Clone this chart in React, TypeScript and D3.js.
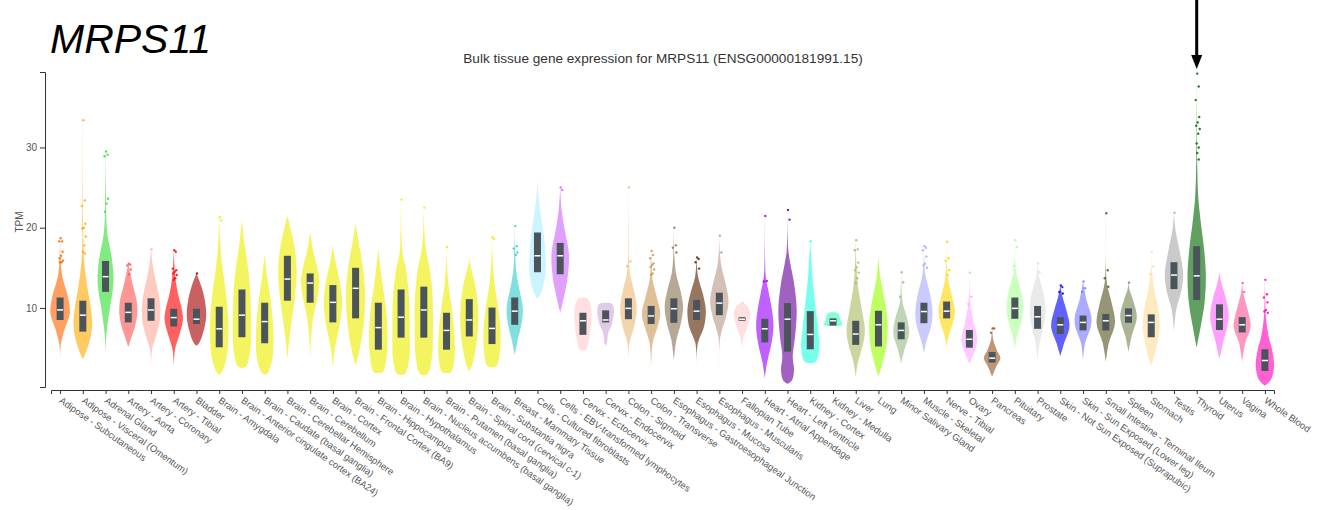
import { useEffect, useRef } from 'react'
import * as d3 from 'd3'

const tissues = [
  'Adipose - Subcutaneous', 'Adipose - Visceral (Omentum)', 'Adrenal Gland', 'Artery - Aorta',
  'Artery - Coronary', 'Artery - Tibial', 'Bladder', 'Brain - Amygdala',
  'Brain - Anterior cingulate cortex (BA24)', 'Brain - Caudate (basal ganglia)', 'Brain - Cerebellar Hemisphere',
  'Brain - Cerebellum', 'Brain - Cortex', 'Brain - Frontal Cortex (BA9)', 'Brain - Hippocampus',
  'Brain - Hypothalamus', 'Brain - Nucleus accumbens (basal ganglia)', 'Brain - Putamen (basal ganglia)',
  'Brain - Spinal cord (cervical c-1)', 'Brain - Substantia nigra', 'Breast - Mammary Tissue',
  'Cells - Cultured fibroblasts', 'Cells - EBV-transformed lymphocytes', 'Cervix - Ectocervix',
  'Cervix - Endocervix', 'Colon - Sigmoid', 'Colon - Transverse', 'Esophagus - Gastroesophageal Junction',
  'Esophagus - Mucosa', 'Esophagus - Muscularis', 'Fallopian Tube', 'Heart - Atrial Appendage',
  'Heart - Left Ventricle', 'Kidney - Cortex', 'Kidney - Medulla', 'Liver', 'Lung', 'Minor Salivary Gland',
  'Muscle - Skeletal', 'Nerve - Tibial', 'Ovary', 'Pancreas', 'Pituitary', 'Prostate',
  'Skin - Not Sun Exposed (Suprapubic)', 'Skin - Sun Exposed (Lower leg)', 'Small Intestine - Terminal Ileum',
  'Spleen', 'Stomach', 'Testis', 'Thyroid', 'Uterus', 'Vagina', 'Whole Blood'
]

const tissueColors = [
  '#FF6600', '#FFAA00', '#33DD33', '#FF5555', '#FFAA99', '#FF0000', '#AA0000',
  '#EEEE00', '#EEEE00', '#EEEE00', '#EEEE00', '#EEEE00', '#EEEE00', '#EEEE00', '#EEEE00',
  '#EEEE00', '#EEEE00', '#EEEE00', '#EEEE00', '#EEEE00',
  '#33CCCC', '#AAEEFF', '#CC66FF', '#FFCCCC', '#CCAADD', '#EEBB77', '#CC9955', '#8B7355',
  '#552200', '#BB9988', '#FFCCCC', '#9900FF', '#660099', '#22FFDD', '#33FFC2', '#AABB66',
  '#99FF00', '#99BB88', '#AAAAFF', '#FFD700', '#FFAAFF', '#995522', '#AAFF99', '#DDDDDD',
  '#0000FF', '#7777FF', '#555522', '#778855', '#FFDD99', '#AAAAAA', '#006600', '#FF66FF',
  '#FF5599', '#FF00BB'
]

// quartiles (TPM)
const q1 = [
  8.5, 7.05, 12.0, 8.2, 8.4, 7.7, 8.0, 5.1, 6.35, 5.6, 10.9, 10.65, 8.2, 8.7, 4.8, 6.3, 6.3, 4.8,
  6.45, 5.5, 7.9, 14.45, 14.2, 6.65, 8.2, 8.6, 8.0, 8.15, 8.5, 9.1, 8.4, 5.7, 4.55, 4.85, 7.8,
  5.4, 5.2, 6.1, 8.1, 8.7, 5.05, 3.2, 8.65, 7.4, 6.75, 7.2, 7.2, 8.15, 6.35, 12.35, 11.0, 7.25,
  6.95, 2.15
]
const medians = [
  9.75, 9.1, 13.9, 9.45, 9.75, 8.8, 8.6, 7.4, 9.1, 8.3, 13.6, 13.1, 10.7, 12.45, 7.55, 8.85, 9.75,
  7.2, 8.5, 7.45, 9.6, 16.5, 16.5, 8.4, 8.5, 9.95, 9.0, 9.9, 9.6, 10.6, 8.6, 7.4, 8.6, 6.7, 8.4,
  6.75, 7.9, 7.2, 9.55, 9.6, 6.1, 3.75, 9.95, 8.9, 7.9, 8.2, 8.4, 9.05, 8.2, 14.1, 14.0, 8.6,
  7.9, 3.45
]
const q3 = [
  11.3, 10.9, 15.85, 10.65, 11.2, 9.9, 9.9, 10.15, 12.3, 10.65, 16.5, 14.3, 12.85, 15.0, 10.65,
  12.3, 12.65, 9.4, 11.1, 10.05, 11.3, 19.4, 18.1, 9.4, 9.7, 11.2, 10.25, 11.2, 11.0, 11.9, 8.85,
  8.65, 10.6, 9.6, 8.7, 8.4, 9.65, 8.2, 10.65, 10.8, 7.25, 4.5, 11.3, 10.25, 8.85, 9.05, 9.25,
  9.95, 9.2, 15.7, 17.7, 10.45, 8.85, 4.85
]

// violin outline: [TPM, relative density]
const violinProfiles: [number, number][][] = [
  [[3.2, 0], [5.5, 0.08], [7.3, 0.45], [9.3, 0.97], [11.4, 0.78], [13.5, 0.3], [15.1, 0.1], [18.7, 0]],
  [[3.6, 0], [4.8, 0.4], [6.5, 0.8], [7.8, 0.93], [9.8, 0.83], [12.2, 0.5], [14.7, 0.22], [16.8, 0.08], [20, 0.04], [33.4, 0]],
  [[4.35, 0], [6, 0.05], [7.5, 0.15], [9.75, 0.4], [12.2, 0.72], [13.9, 0.8], [16.4, 0.6], [18.9, 0.22], [21, 0.08], [24, 0.04], [29.5, 0]],
  [[5.1, 0], [6, 0.22], [7.7, 0.67], [9.3, 0.9], [11, 0.82], [12.65, 0.5], [14.3, 0.2], [15.5, 0]],
  [[2.6, 0], [4.8, 0.1], [6.4, 0.48], [8.1, 0.83], [9.75, 0.93], [11.8, 0.75], [13.9, 0.38], [15.5, 0.15], [17.4, 0]],
  [[2.6, 0], [4.8, 0.12], [6.4, 0.5], [8.5, 0.92], [9.75, 0.82], [11.8, 0.42], [13.9, 0.15], [15.5, 0.06], [17.2, 0]],
  [[5.3, 0], [5.6, 0.25], [6.85, 0.65], [8.9, 0.97], [11, 0.83], [12.65, 0.5], [14.3, 0]],
  [[1.65, 0], [2.1, 0.3], [3.9, 0.75], [6.4, 0.92], [8.9, 0.9], [11.4, 0.72], [13.9, 0.45], [16.4, 0.2], [18.9, 0.07], [21.2, 0]],
  [[2.5, 0], [2.7, 0.4], [4.4, 0.8], [7.3, 0.93], [9.75, 0.9], [12.2, 0.82], [15.1, 0.6], [18, 0.25], [21, 0]],
  [[1.65, 0], [1.9, 0.3], [3.55, 0.75], [6, 0.88], [8.9, 0.78], [11.4, 0.55], [13.9, 0.25], [16.7, 0]],
  [[3.65, 0], [5.6, 0.15], [8.9, 0.48], [11.4, 0.75], [14.7, 0.93], [18, 0.65], [20.1, 0.28], [21.45, 0]],
  [[3.85, 0], [6.4, 0.1], [8.9, 0.32], [11.4, 0.75], [13.5, 0.92], [15.55, 0.62], [17.2, 0.28], [19.5, 0]],
  [[2.6, 0], [4.8, 0.18], [7.3, 0.58], [10.6, 0.92], [13.5, 0.65], [16, 0.22], [17.8, 0]],
  [[2.8, 0], [4.8, 0.4], [8.1, 0.82], [12.2, 0.95], [16, 0.62], [18.45, 0.27], [20.6, 0]],
  [[1.9, 0], [2.0, 0.45], [3.95, 0.83], [6.4, 0.92], [9.75, 0.78], [12.65, 0.45], [15.1, 0.2], [17.4, 0]],
  [[1.65, 0], [1.8, 0.4], [3.5, 0.8], [7.3, 0.87], [11.4, 0.8], [15.1, 0.45], [16.8, 0.15], [18.9, 0.06], [23.5, 0]],
  [[1.65, 0], [1.8, 0.4], [3.95, 0.82], [7.3, 0.92], [11.4, 0.88], [14.7, 0.62], [17.2, 0.22], [19.7, 0.06], [22.5, 0]],
  [[1.9, 0], [2.0, 0.45], [3.95, 0.8], [6.4, 0.8], [9.75, 0.55], [12.65, 0.22], [15.1, 0.06], [17.6, 0]],
  [[2.15, 0], [2.6, 0.2], [3.95, 0.5], [7.3, 0.87], [10.6, 0.85], [13.1, 0.55], [15.1, 0.15], [16.1, 0]],
  [[2.6, 0], [2.75, 0.45], [4.8, 0.82], [7.3, 0.85], [9.75, 0.65], [12.65, 0.3], [15.1, 0.1], [18.8, 0]],
  [[4.15, 0], [6, 0.3], [8.5, 0.75], [10.15, 0.8], [12.2, 0.48], [14.3, 0.18], [16.4, 0.06], [20.2, 0]],
  [[11.1, 0], [12.2, 0.45], [14.3, 0.8], [16.4, 0.8], [18.9, 0.65], [21.4, 0.35], [23.9, 0.1], [26, 0]],
  [[9.45, 0], [11.4, 0.38], [13.9, 0.75], [16.8, 0.87], [19.7, 0.45], [22.2, 0.15], [25, 0]],
  [[4.7, 0], [4.8, 0.3], [6.0, 0.6], [8.1, 0.82], [10.15, 0.8], [11.1, 0.5], [11.3, 0]],
  [[5.3, 0], [5.6, 0.12], [6.85, 0.25], [8.1, 0.65], [9.75, 0.83], [10.5, 0.65], [10.65, 0]],
  [[2.9, 0], [5.6, 0.1], [7.7, 0.58], [9.75, 0.83], [11.8, 0.62], [13.9, 0.22], [15.55, 0.06], [18, 0.03], [25, 0]],
  [[2.35, 0], [5.6, 0.15], [7.7, 0.65], [9.3, 0.92], [11.4, 0.55], [13.5, 0.15], [15.5, 0.05], [17.1, 0]],
  [[3.5, 0], [6, 0.25], [8.1, 0.7], [10.15, 0.92], [12.2, 0.65], [14.3, 0.22], [16.4, 0.06], [20, 0]],
  [[3.1, 0], [5.6, 0.12], [7.7, 0.75], [9.75, 0.92], [11.8, 0.62], [13.9, 0.15], [16.3, 0]],
  [[2.6, 0], [6.4, 0.1], [8.9, 0.67], [10.8, 0.92], [13.1, 0.62], [15.1, 0.22], [16.8, 0.06], [19, 0]],
  [[5.1, 0], [6.4, 0.18], [7.7, 0.55], [9.3, 0.83], [10.3, 0.5], [10.65, 0]],
  [[1.25, 0], [3.1, 0.22], [5.6, 0.67], [7.7, 0.87], [9.75, 0.72], [12.2, 0.35], [13.9, 0.1], [16, 0.03], [21.45, 0]],
  [[0.55, 0], [1.0, 0.45], [2.3, 0.65], [3.95, 0.52], [6.4, 0.75], [9.75, 0.92], [13.1, 0.65], [15.55, 0.28], [17.2, 0.08], [22.2, 0]],
  [[3.1, 0], [3.3, 0.55], [4.8, 0.9], [7.7, 0.75], [10.6, 0.48], [13.9, 0.22], [16.4, 0.1], [18.3, 0]],
  [[7.8, 0], [7.85, 0.9], [8.5, 0.75], [9.3, 0.5], [9.45, 0]],
  [[1.3, 0], [3.1, 0.2], [5.6, 0.75], [7.3, 0.92], [9.75, 0.62], [12.2, 0.28], [14.7, 0.1], [18.45, 0]],
  [[1.45, 0], [3.1, 0.4], [5.6, 0.83], [8.1, 0.92], [11, 0.62], [13.9, 0.18], [16.4, 0]],
  [[3.1, 0], [4.8, 0.32], [6.85, 0.8], [8.9, 0.55], [10.6, 0.15], [12.5, 0.04], [14.45, 0]],
  [[4.35, 0], [5.6, 0.2], [8.1, 0.78], [9.75, 0.85], [11.8, 0.6], [13.9, 0.18], [15.5, 0.05], [17.7, 0]],
  [[5.1, 0], [6.4, 0.18], [8.5, 0.7], [9.75, 0.83], [11.4, 0.55], [13.9, 0.12], [18.25, 0]],
  [[3.05, 0], [3.95, 0.32], [6, 0.8], [8.1, 0.45], [10.6, 0.1], [14.4, 0]],
  [[1.45, 0], [2.7, 0.42], [3.75, 0.83], [4.8, 0.45], [6, 0.12], [7.45, 0]],
  [[4.8, 0], [6.4, 0.2], [8.5, 0.68], [10.15, 0.83], [12.2, 0.6], [14.3, 0.15], [16, 0.04], [18.45, 0]],
  [[3.45, 0], [5.6, 0.2], [7.7, 0.6], [9.75, 0.8], [11.8, 0.6], [13.9, 0.15], [15.55, 0]],
  [[4, 0], [5.6, 0.38], [7.7, 0.92], [9.75, 0.6], [11.4, 0.22], [12.8, 0]],
  [[3.45, 0], [5.6, 0.2], [7.7, 0.78], [8.9, 0.83], [11, 0.35], [13.3, 0]],
  [[3.3, 0], [5.6, 0.3], [8.1, 0.92], [10.6, 0.6], [12.65, 0.18], [14, 0.05], [21.8, 0]],
  [[4.5, 0], [6.4, 0.3], [8.9, 0.83], [11, 0.45], [12.2, 0.12], [13.15, 0]],
  [[2.7, 0], [4.8, 0.45], [7.3, 0.83], [9.75, 0.72], [12.2, 0.3], [14.7, 0.06], [17, 0]],
  [[7.05, 0], [9.75, 0.22], [12.2, 0.75], [14.3, 0.92], [17.2, 0.55], [19.7, 0.15], [21.85, 0]],
  [[5.05, 0], [7.7, 0.4], [10.6, 0.78], [13.9, 0.92], [17.2, 0.75], [21, 0.38], [23.9, 0.15], [26.8, 0.07], [30, 0.03], [38.9, 0]],
  [[3.6, 0], [5.6, 0.35], [8.1, 0.85], [9.3, 0.92], [11.4, 0.6], [13.1, 0.2], [14.45, 0]],
  [[3.3, 0], [5.6, 0.3], [7.7, 0.85], [9.75, 0.55], [11.8, 0.12], [13.1, 0]],
  [[0.3, 0], [1.05, 0.6], [2.7, 0.92], [4.8, 0.72], [6.4, 0.38], [8.9, 0.1], [11, 0.03], [13.5, 0]]
]

const outliers: number[][] = [
  [18.7, 18.3, 18.3, 17.0, 16.5, 16.2, 15.9, 15.7, 15.7],
  [33.4, 23.4, 22.7, 20.5, 20.0, 19.9, 18.9, 17.8, 17.0, 16.8],
  [29.5, 29.1, 28.9, 23.6, 23.0, 22.0],
  [15.5, 15.4, 15.3, 14.8, 14.2],
  [17.3],
  [17.2, 17.0, 14.9, 14.7, 14.5, 14.3, 14.1, 13.7, 13.5],
  [14.3],
  [21.3, 20.9],
  [], [], [], [], [], [], [],
  [23.5],
  [22.5],
  [17.6],
  [],
  [18.8, 18.6],
  [20.2, 17.7, 17.4, 16.9, 16.6],
  [],
  [25.0, 24.7],
  [], [],
  [25.0, 15.8, 15.2],
  [17.1, 16.6, 16.2, 15.55, 15.35, 15.1, 14.8, 14.3, 14.1],
  [20.0, 17.8, 17.5, 16.9],
  [16.3, 16.1, 15.7, 14.9],
  [19.0, 16.9],
  [10.65],
  [21.45, 13.35, 13.3],
  [22.2, 21.0],
  [18.3],
  [],
  [18.45, 17.3, 17.2, 15.65, 15.05, 14.7, 14.4, 13.7, 13.1],
  [],
  [14.45, 13.2, 11.4],
  [17.7, 17.5, 17.2, 16.4, 15.5, 15.3, 15.0],
  [18.25, 16.2, 15.9, 14.7, 14.1],
  [14.4, 11.4, 10.5],
  [7.45, 7.45, 6.9],
  [18.45, 17.6, 15.25],
  [15.55, 14.45],
  [12.8, 12.6, 12.0, 11.8],
  [13.3, 12.45, 12.0],
  [21.8, 14.7, 13.7, 12.65],
  [13.15],
  [17.0, 15.2, 14.2],
  [21.85],
  [39.2, 37.6, 35.9, 33.8, 33.1, 32.7, 32.3, 31.7, 30.5, 30.0, 29.3, 28.5],
  [],
  [13.1, 12.0],
  [13.5, 11.7, 11.3, 10.7, 9.75, 9.55, 9.4]
]

const yTicks = [10, 20, 30]
const geneName = 'MRPS11'
const chartTitle = 'Bulk tissue gene expression for MRPS11 (ENSG00000181991.15)'

const width = 1318
const height = 510
const font = "Arial, 'Liberation Sans', Helvetica, sans-serif"
const dotJitter = [0.5, 2, -1, 2.5, 1, -0.5, 3, 1.5, 0, 2]

export default function App() {
  const svgRef = useRef<SVGSVGElement>(null)

  useEffect(() => {
    if (!svgRef.current) return
    const svg = d3.select(svgRef.current)
    svg.selectAll('*').remove()

    const x = d3.scalePoint<string>().domain(tissues).range([51, 1274]).padding(0.4)
    const y = d3.scaleLinear().domain([0.15, 39.4]).range([387, 72])
    const halfWidth = 10
    const boxWidth = 7

    const violinArea = d3.area<[number, number]>()
      .y(d => y(d[0]))
      .x0(d => -d[1] * halfWidth)
      .x1(d => d[1] * halfWidth)
      .curve(d3.curveCatmullRom.alpha(0.5))

    // Violins
    const groups = svg.append('g').selectAll('g')
      .data(tissues)
      .enter()
      .append('g')
      .attr('transform', d => `translate(${x(d)},0)`)

    groups.append('path')
      .attr('d', (_, i) => violinArea(violinProfiles[i]) || '')
      .attr('fill', (_, i) => tissueColors[i])
      .attr('fill-opacity', 0.62)

    groups.append('rect')
      .attr('x', -boxWidth / 2)
      .attr('width', boxWidth)
      .attr('y', (_, i) => y(q3[i]))
      .attr('height', (_, i) => y(q1[i]) - y(q3[i]))
      .attr('fill', '#4a545a')

    groups.append('line')
      .attr('x1', -boxWidth / 2 + 0.5)
      .attr('x2', boxWidth / 2 - 0.5)
      .attr('y1', (_, i) => y(medians[i]))
      .attr('y2', (_, i) => y(medians[i]))
      .attr('stroke', '#fff')
      .attr('stroke-width', 1.5)

    groups.each(function (_, i) {
      d3.select(this).selectAll('circle')
        .data(outliers[i])
        .enter()
        .append('circle')
        .attr('cx', (_, j) => dotJitter[j % dotJitter.length])
        .attr('cy', v => y(v))
        .attr('r', 1.2)
        .attr('fill', tissueColors[i])
        .attr('fill-opacity', 0.85)
    })

    // Y axis
    const yAxis = svg.append('g')
      .attr('transform', 'translate(45,0)')
      .call(d3.axisLeft(y).tickValues(yTicks).tickSize(5).tickSizeOuter(5))
    yAxis.select('.domain').attr('stroke', '#333')
    yAxis.selectAll('.tick line').attr('stroke', '#333')
    yAxis.selectAll('.tick text')
      .attr('x', -8)
      .style('font-family', font)
      .style('font-size', '10px')
      .attr('fill', '#555')

    svg.append('text')
      .attr('transform', 'translate(23,222) rotate(-90)')
      .attr('text-anchor', 'middle')
      .style('font-family', font)
      .style('font-size', '10px')
      .attr('fill', '#555')
      .text('TPM')

    // X axis
    const xAxis = svg.append('g')
      .attr('transform', 'translate(0,390)')
      .call(d3.axisBottom(x).tickSize(4).tickSizeOuter(4))
    xAxis.select('.domain').attr('stroke', '#333')
    xAxis.selectAll('.tick line').attr('stroke', '#333')
    xAxis.selectAll('.tick text')
      .attr('x', 0)
      .attr('y', 0)
      .attr('dy', 0)
      .attr('text-anchor', 'start')
      .attr('transform', 'translate(-2,12) rotate(35)')
      .style('font-family', font)
      .style('font-size', '9.5px')
      .attr('fill', '#555')

    // Titles
    svg.append('text')
      .attr('x', 663)
      .attr('y', 63)
      .attr('text-anchor', 'middle')
      .style('font-family', font)
      .style('font-size', '13.6px')
      .attr('fill', '#333')
      .text(chartTitle)

    svg.append('text')
      .attr('x', 50)
      .attr('y', 53)
      .style('font-family', font)
      .style('font-size', '41px')
      .style('font-style', 'italic')
      .attr('fill', '#000')
      .text(geneName)

    // Arrow over Thyroid
    const ax = x('Thyroid') as number
    svg.append('line')
      .attr('x1', ax).attr('x2', ax)
      .attr('y1', 0).attr('y2', 58)
      .attr('stroke', '#000')
      .attr('stroke-width', 3)
    svg.append('path')
      .attr('d', `M${ax - 5.5},55 L${ax + 5.5},55 L${ax},69 Z`)
      .attr('fill', '#000')
  }, [])

  return (
    <svg
      ref={svgRef}
      width={width}
      height={height}
      style={{ position: 'absolute', left: 0, top: 0, background: '#fff' }}
    />
  )
}
